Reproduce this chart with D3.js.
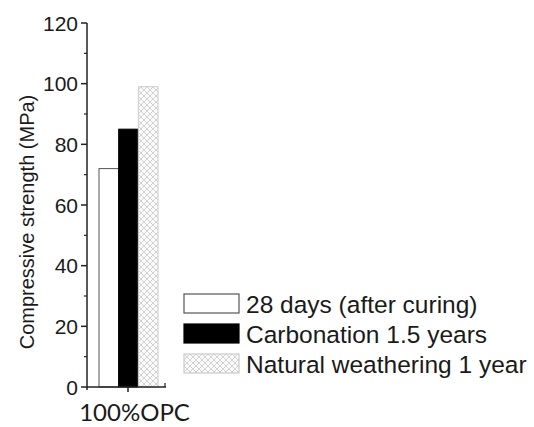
<!DOCTYPE html>
<html>
<head>
<meta charset="utf-8">
<script src="https://cdn.jsdelivr.net/npm/d3@7"></script>
<style>
  body { margin: 0; background: #fff; }
  svg text { font-family: Arial, "Liberation Sans", sans-serif; fill: #1a1a1a; }
</style>
</head>
<body>
<div id="chart"></div>
<script>
// data
const groups = ["100%OPC"];
const series = ["28 days (after curing)", "Carbonation 1.5 years", "Natural weathering 1 year"];
const values = [72, 85, 99];
const y_ticks = [0, 20, 40, 60, 80, 100, 120];

const w = 534, h = 427;
const svg = d3.select("#chart").append("svg").attr("width", w).attr("height", h);

// hatch pattern
const defs = svg.append("defs");
const pat = defs.append("pattern")
    .attr("id", "hatch")
    .attr("patternUnits", "userSpaceOnUse")
    .attr("width", 6).attr("height", 6);
pat.append("rect").attr("width", 6).attr("height", 6).attr("fill", "#fbfbfb");
pat.append("path").attr("d", "M0,0 L6,6 M6,0 L0,6 M-1,5 L1,7 M5,-1 L7,1")
    .attr("stroke", "#c8c8c8").attr("stroke-width", 0.8);

// scales
const y = d3.scaleLinear().domain([0, 120]).range([387, 23]);
const x = d3.scaleBand().domain(groups).range([87, 166]);
const xs = d3.scaleBand().domain(series).range([99, 158]);

const fills = ["#fff", "#000", "url(#hatch)"];
const strokes = ["#555", "#000", "#ccc"];

// bars
svg.selectAll("rect.bar")
    .data(values)
    .enter()
    .append("rect")
    .attr("class", "bar")
    .attr("x", (d, i) => xs(series[i]))
    .attr("width", xs.bandwidth())
    .attr("y", d => y(d))
    .attr("height", d => y(0) - y(d))
    .attr("fill", (d, i) => fills[i])
    .attr("stroke", (d, i) => strokes[i])
    .attr("stroke-width", 1);

// y axis
const yAxis = svg.append("g").attr("transform", "translate(87,0)");
yAxis.append("line").attr("x1", 0).attr("x2", 0).attr("y1", y(120)).attr("y2", y(0) + 3)
    .attr("stroke", "#222").attr("stroke-width", 1.5);
y_ticks.forEach(t => {
    yAxis.append("line").attr("x1", -6).attr("x2", 0).attr("y1", y(t)).attr("y2", y(t))
        .attr("stroke", "#222").attr("stroke-width", 1.5);
    yAxis.append("text").attr("x", -9).attr("y", y(t)).attr("dy", "0.36em")
        .attr("text-anchor", "end").attr("font-size", 21).text(t);
});
d3.range(10, 120, 20).forEach(t => {
    yAxis.append("line").attr("x1", -3).attr("x2", 0).attr("y1", y(t)).attr("y2", y(t))
        .attr("stroke", "#222").attr("stroke-width", 1.2);
});

// x axis
svg.append("line").attr("x1", 87).attr("x2", 166).attr("y1", y(0)).attr("y2", y(0))
    .attr("stroke", "#222").attr("stroke-width", 1.5);
svg.append("line").attr("x1", 128).attr("x2", 128).attr("y1", y(0)).attr("y2", y(0) + 5)
    .attr("stroke", "#222").attr("stroke-width", 1.5);
svg.append("line").attr("x1", 165).attr("x2", 165).attr("y1", y(0)).attr("y2", y(0) - 4)
    .attr("stroke", "#222").attr("stroke-width", 1.2);
svg.append("text")
    .attr("x", x(groups[0]) + x.bandwidth() / 2 + 8).attr("y", 421)
    .attr("text-anchor", "middle").attr("font-size", 24)
    .style("font-family", "Lato, 'Open Sans', sans-serif")
    .text(groups[0]);

// y label
svg.append("text")
    .attr("transform", "translate(34,222) rotate(-90)")
    .attr("text-anchor", "middle").attr("font-size", 20)
    .text("Compressive strength (MPa)");

// legend
const legend = svg.append("g").attr("transform", "translate(184,294)");
series.forEach((s, i) => {
    const g = legend.append("g").attr("transform", "translate(0," + (i * 30) + ")");
    g.append("rect").attr("width", 55).attr("height", 19)
        .attr("fill", fills[i]).attr("stroke", strokes[i]).attr("stroke-width", 1.2);
    g.append("text").attr("x", 62).attr("y", 19).attr("font-size", 24.5).text(s);
});
</script>
</body>
</html>
